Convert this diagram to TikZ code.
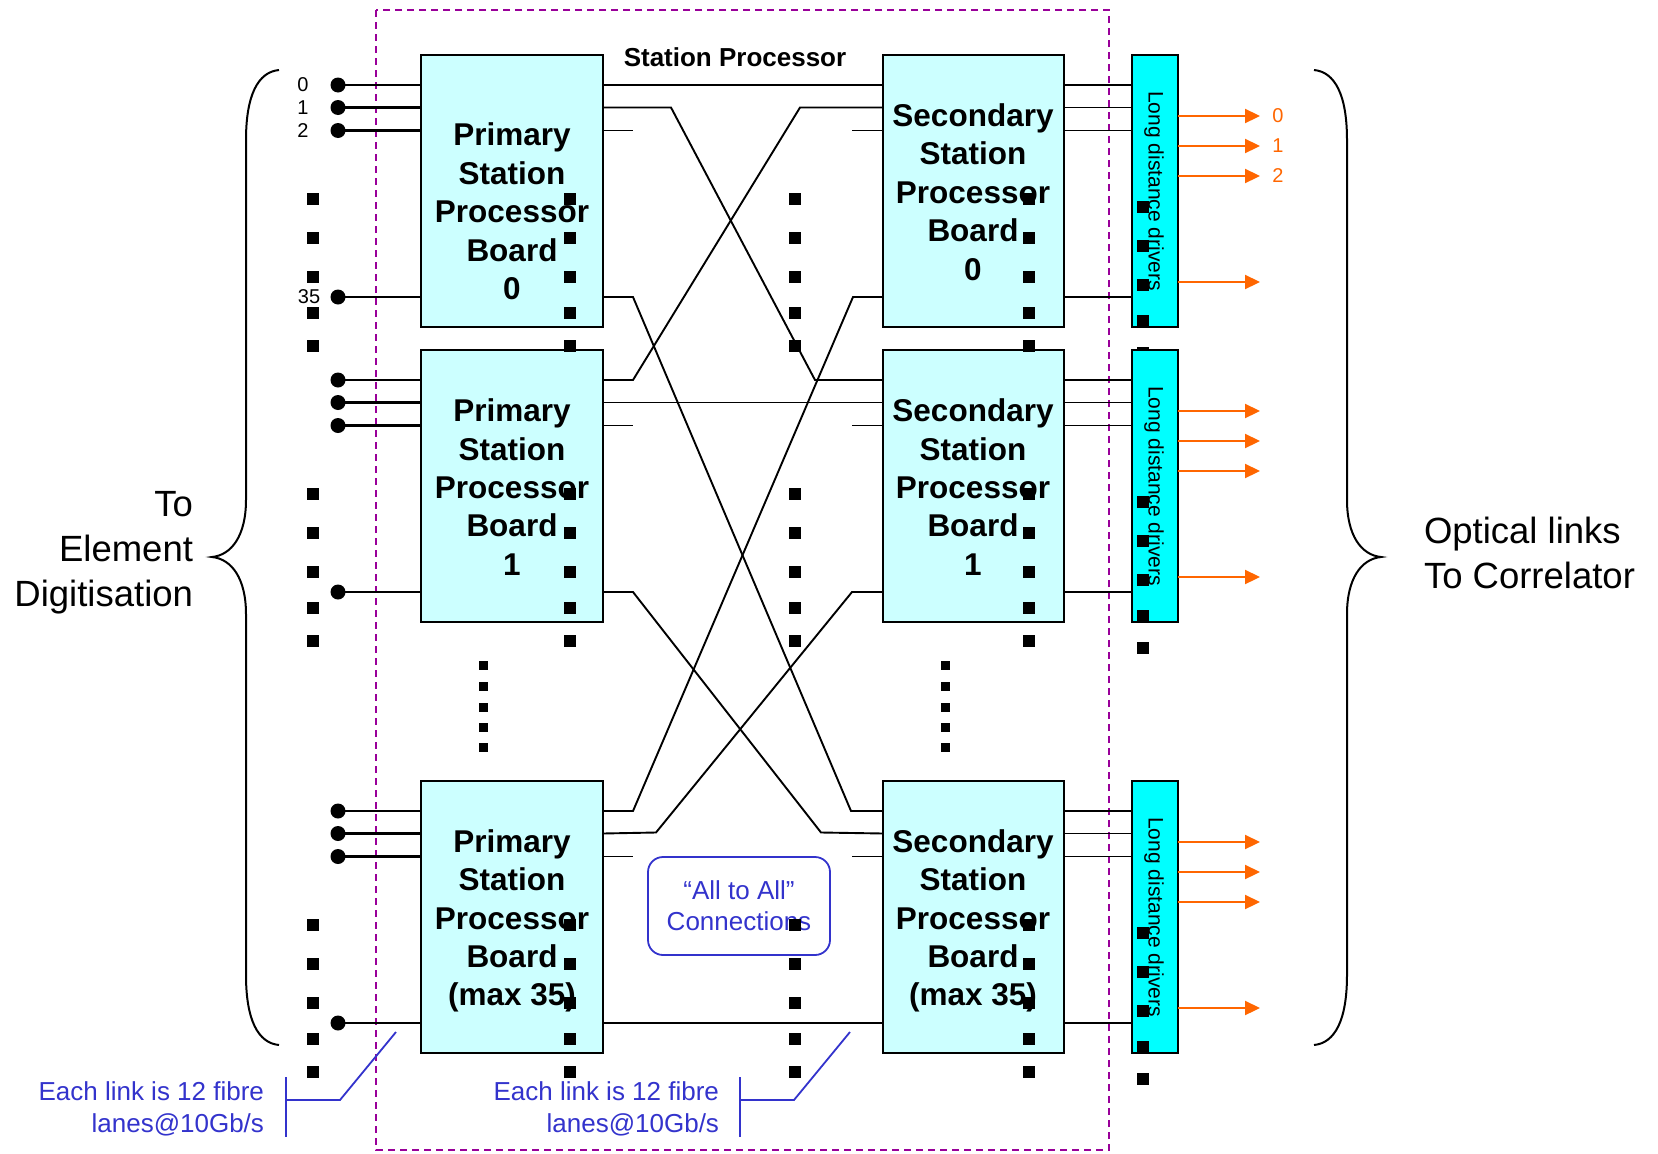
\documentclass[tikz,border=0pt]{standalone}
\usepackage{fontspec}
\setmainfont{Liberation Sans}
\usetikzlibrary{arrows.meta}

\definecolor{boardfill}{RGB}{204,255,255}
\definecolor{driverfill}{RGB}{0,255,255}
\definecolor{frameviolet}{RGB}{153,0,153}
\definecolor{noteblue}{RGB}{51,51,204}
\definecolor{linkorange}{RGB}{255,102,0}

\begin{document}
\begin{tikzpicture}[x=1pt, y=-1pt,
  every node/.style={inner sep=0pt, outer sep=0pt},
  boardbox/.style={draw=black, line width=2.2pt, fill=boardfill, minimum width=182pt, minimum height=272pt},
  driverbox/.style={draw=black, line width=2.2pt, fill=driverfill, minimum width=46pt, minimum height=272pt},
  boardtext/.style={align=center, font=\fontsize{31.5}{38.4}\selectfont\bfseries},
  drivertext/.style={rotate=-90, font=\fontsize{21}{25}\selectfont},
  wire/.style={line width=1.9pt},
  feed/.style={line width=2.2pt},
  link/.style={draw=linkorange, line width=2.2pt, -{Triangle[length=15pt, width=14pt]}},
  note/.style={text=noteblue, align=right, font=\fontsize{26}{32}\selectfont},
  leader/.style={draw=noteblue, line width=1.8pt},
  brace/.style={line width=2pt},
  frame/.style={draw=frameviolet, line width=2pt, dash pattern=on 7pt off 5pt},
  portlabel/.style={font=\fontsize{20}{22}\selectfont},
  sidetext/.style={font=\fontsize{36.5}{45}\selectfont},
]
\useasboundingbox (0,0) rectangle (1658,1154);

% station processor enclosure
\draw[frame] (376,10) rectangle (1109,1150);
\node[font=\fontsize{26}{30}\selectfont\bfseries] (title) at (735,57) {Station Processor};

% braces
\draw[brace] (279,70) .. controls (258,72) and (246,95) .. (246,140) -- (246,500)
  .. controls (246,535) and (232,555) .. (212,557)
  .. controls (232,559) and (246,579) .. (246,614) -- (246,975)
  .. controls (246,1020) and (258,1043) .. (279,1045);
\draw[brace] (1314,70) .. controls (1335,72) and (1347,95) .. (1347,140) -- (1347,500)
  .. controls (1347,535) and (1361,555) .. (1381,557)
  .. controls (1361,559) and (1347,579) .. (1347,614) -- (1347,975)
  .. controls (1347,1020) and (1335,1043) .. (1314,1045);

\node[sidetext, align=right, anchor=east] (todig) at (193,553) {To\\Element\\Digitisation};
\node[sidetext, align=left, anchor=west] (tocorr) at (1424,553) {Optical links\\To Correlator};

% input and output ports of each board row
\foreach \i/\t in {0/55,1/350,2/781}{
  \foreach \k/\o in {0/30,1/52.5,2/75.5,3/242}{
    \coordinate (in\i\k) at (338,\t+\o);
  }
  \foreach \k/\o in {0/61,1/91,2/121,3/227}{
    \coordinate (out\i\k) at (1260,\t+\o);
  }
}

% boards
\node[boardbox] (p0) at (512,191) {};
\node[boardbox] (p1) at (512,486) {};
\node[boardbox] (p2) at (512,917) {};
\node[boardbox, minimum width=181pt] (s0) at (973.5,191) {};
\node[boardbox, minimum width=181pt] (s1) at (973.5,486) {};
\node[boardbox, minimum width=181pt] (s2) at (973.5,917) {};

% inputs from the element digitisers
\foreach \i in {0,1,2}{
  \foreach \k in {0,1,2,3}{
    \draw[feed] (in\i\k) -- (p\i.west |- in\i\k);
    \fill (in\i\k) circle (7.5);
  }
}
\node[portlabel] (n0) at (303,85) {0};
\node[portlabel] (n1) at (303,107.5) {1};
\node[portlabel] (n2) at (303,130.5) {2};
\node[portlabel] (n35) at (309,297) {35};

% all-to-all links between primary and secondary boards
\draw[wire] (p0.east |- in00) -- (s0.west |- in00);
\draw[wire] (p0.east |- in01) -- (671,107.5) -- (815,380) -- (s1.west |- in10);
\draw[wire] (p0.east |- in02) -- ++(30,0);
\draw[wire] (s0.west |- in02) -- ++(-31,0);
\draw[wire] (p0.east |- in03) -- (633,297) -- (851,811) -- (s2.west |- in20);
\draw[wire] (p1.east |- in10) -- (633,380) -- (800,107.5) -- (s0.west |- in01);
\draw[wire] (p1.east |- in11) -- (s1.west |- in11);
\draw[wire] (p1.east |- in12) -- ++(30,0);
\draw[wire] (s1.west |- in12) -- ++(-31,0);
\draw[wire] (p1.east |- in13) -- (633,592) -- (821,832.5) -- (s2.west |- in21);
\draw[wire] (p2.east |- in20) -- (633,811) -- (853,297) -- (s0.west |- in03);
\draw[wire] (p2.east |- in21) -- (656,832.5) -- (852,592) -- (s1.west |- in13);
\draw[wire] (p2.east |- in22) -- ++(30,0);
\draw[wire] (s2.west |- in22) -- ++(-31,0);
\draw[wire] (p2.east |- in23) -- (s2.west |- in23);

% board captions
\node[boardtext] (p0t) at (512,211.5) {Primary\\Station\\Processor\\Board\\0};
\node[boardtext] (p1t) at (512,487) {Primary\\Station\\Processor\\Board\\1};
\node[boardtext] (p2t) at (512,921) {Primary\\Station\\Processor\\Board\\(max 35)};
\node[boardtext] (s0t) at (973,192) {Secondary\\Station\\Processor\\Board\\0};
\node[boardtext] (s1t) at (973,487) {Secondary\\Station\\Processor\\Board\\1};
\node[boardtext] (s2t) at (973,921) {Secondary\\Station\\Processor\\Board\\(max 35)};

% all-to-all label
\node[draw=noteblue, line width=1.8pt, rounded corners=15pt, minimum width=182pt,
  minimum height=98pt, align=center, text=noteblue, font=\fontsize{26}{31}\selectfont]
  (a2a) at (739,906) {“All to All”\\Connections};

% continuation marks
\foreach \t in {55,350,781}{
  \foreach \cx in {313,570,795,1029}{
    \foreach \o in {144,183,222,258,291}{
      \fill (\cx-6.25,\t+\o-6.25) rectangle ++(12.5,12.5);
    }
  }
}
\foreach \cx in {483,945}{
  \foreach \y in {665,686,707,727,747}{
    \fill (\cx-4.5,\y-4.5) rectangle ++(9,9);
  }
}

% long distance drivers and optical outputs
\foreach \i/\t/\c in {0/55/191,1/350/486,2/781/917}{
  \node[driverbox] (d\i) at (1155,\c) {};
  \foreach \k in {0,1,2,3}{
    \draw[wire] (s\i.east |- in\i\k) -- (d\i.west |- in\i\k);
  }
  \node[drivertext] (d\i t) at (1154,\c) {Long distance drivers};
  \foreach \k in {0,1,2,3}{
    \draw[link] (d\i.east |- out\i\k) -- (out\i\k);
  }
  \foreach \o in {152,191,230,266,298}{
    \fill (1143-6.25,\t+\o-6.25) rectangle ++(12.5,12.5);
  }
}
\node[portlabel, text=linkorange] (o0) at (1278,116) {0};
\node[portlabel, text=linkorange] (o1) at (1278,146) {1};
\node[portlabel, text=linkorange] (o2) at (1278,176) {2};

% fibre notes
\node[note, anchor=east] (noteL) at (264,1109) {Each link is 12 fibre\\lanes@10Gb/s};
\node[note, anchor=east] (noteR) at (719,1109) {Each link is 12 fibre\\lanes@10Gb/s};
\coordinate (tipL) at (396,1032);
\coordinate (tipR) at (850,1032);
\draw[leader] (286,1077) -- (286,1137);
\draw[leader] (286,1100) -- (340,1100) -- (tipL);
\draw[leader] (740,1077) -- (740,1137);
\draw[leader] (740,1100) -- (794,1100) -- (tipR);
\end{tikzpicture}
\end{document}
